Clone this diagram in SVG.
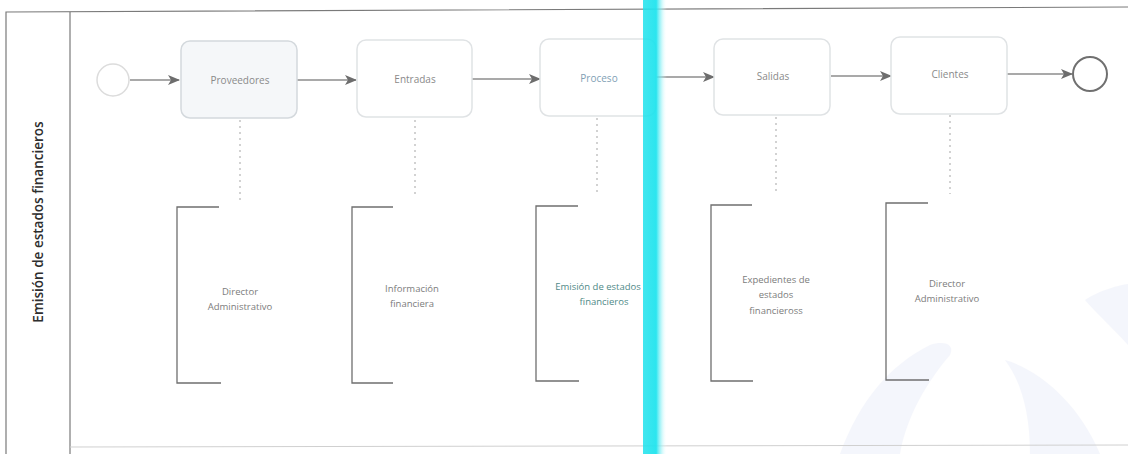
<svg xmlns="http://www.w3.org/2000/svg" width="1128" height="454" viewBox="0 0 1128 454">
  <defs>
    <style>
      .pool { fill: none; stroke: #7a7a7a; stroke-width: 1.2; }
      .task { stroke: #e0e3e5; stroke-width: 1.5; }
      .tlabel { font-family: "Open Sans", "Liberation Sans", sans-serif; font-size: 10px; fill: #8a8a8a; text-anchor: middle; }
      .alabel { font-family: "Open Sans", "Liberation Sans", sans-serif; font-size: 9.5px; fill: #7c7c7c; text-anchor: middle; }
      .flow { fill: none; stroke: #8d8d8d; stroke-width: 1.5; }
      .assoc { fill: none; stroke: #b5b5b5; stroke-width: 1.2; stroke-dasharray: 2 4; }
      .bracket { fill: none; stroke: #6f6f6f; stroke-width: 1.3; }
      .lane { font-family: "Open Sans", "Liberation Sans", sans-serif; font-size: 13.5px; font-weight: 600; fill: #2e2e2e; text-anchor: middle; }
    </style>
    <marker id="arrow" viewBox="0 0 12 10" refX="11" refY="5" markerWidth="12" markerHeight="10" markerUnits="userSpaceOnUse" orient="auto">
      <path d="M0,0 L12,5 L0,10 L3,5 Z" fill="#6d6d6d"/>
    </marker>
    <linearGradient id="band" x1="0" y1="0" x2="1" y2="0">
      <stop offset="0" stop-color="#20e2ec" stop-opacity="0.85"/>
      <stop offset="0.55" stop-color="#20e4ee" stop-opacity="0.95"/>
      <stop offset="0.75" stop-color="#8af0f5" stop-opacity="0.6"/>
      <stop offset="1" stop-color="#ffffff" stop-opacity="0"/>
    </linearGradient>
  </defs>

  <rect width="1128" height="454" fill="#ffffff"/>

  <!-- faint logo shapes in the lower right -->
  <g id="backdrop" fill="#8094dc" opacity="0.08">
    <path d="M840,454 C860,400 890,365 930,345 C945,340 955,345 950,355 C920,390 905,425 900,454 Z"/>
    <path d="M1030,454 C1030,410 1020,380 1005,360 C1040,370 1080,405 1100,454 Z"/>
    <path d="M1085,300 C1100,290 1120,285 1128,284 L1128,345 C1110,325 1095,312 1085,300 Z"/>
  </g>

  <!-- pool and lane -->
  <g id="pool">
    <path class="pool" d="M1128,7 L6,12 L6,454"/>
    <line class="pool" x1="70" y1="12" x2="70" y2="454"/>
    <line x1="70" y1="447" x2="1128" y2="445" stroke="#d0d0d0" stroke-width="1"/>
    <text class="lane" transform="translate(43,222) rotate(-90)">Emisión de estados financieros</text>
  </g>

  <!-- sequence flows and associations -->
  <g id="connectors">
    <line class="flow" x1="130" y1="80" x2="179" y2="80" marker-end="url(#arrow)"/>
    <line class="flow" x1="297" y1="80" x2="356" y2="80" marker-end="url(#arrow)"/>
    <line class="flow" x1="472" y1="79" x2="540" y2="79" marker-end="url(#arrow)"/>
    <line class="flow" x1="656" y1="77" x2="714" y2="77" marker-end="url(#arrow)"/>
    <line class="flow" x1="831" y1="76" x2="891" y2="76" marker-end="url(#arrow)"/>
    <line class="flow" x1="1007" y1="74" x2="1072" y2="74" marker-end="url(#arrow)"/>
    <line class="assoc" x1="240" y1="120" x2="240" y2="200"/>
    <line class="assoc" x1="415" y1="120" x2="415" y2="198"/>
    <line class="assoc" x1="597" y1="118" x2="597" y2="196"/>
    <line class="assoc" x1="776" y1="117" x2="776" y2="195"/>
    <line class="assoc" x1="950" y1="115" x2="950" y2="194"/>
  </g>

  <g id="start">
    <circle cx="113" cy="80" r="16" fill="#ffffff" stroke="#dcdcdc" stroke-width="1.5"/>
  </g>

  <g id="proveedores">
    <rect class="task" x="181" y="41" width="116" height="77" rx="9" style="fill:#f5f7f9;stroke:#d4d9dd"/>
    <text class="tlabel" x="240" y="84">Proveedores</text>
  </g>
  <g id="entradas">
    <rect class="task" x="357" y="40" width="115" height="77" rx="9" style="fill:#ffffff"/>
    <text class="tlabel" x="415" y="83">Entradas</text>
  </g>
  <g id="proceso">
    <rect class="task" x="540" y="39" width="116" height="77" rx="9" style="fill:#ffffff"/>
    <text class="tlabel" x="599" y="82" style="fill:#7f9fb5">Proceso</text>
  </g>
  <g id="salidas">
    <rect class="task" x="714" y="39" width="116" height="76" rx="9" style="fill:#ffffff"/>
    <text class="tlabel" x="773" y="80">Salidas</text>
  </g>
  <g id="clientes">
    <rect class="task" x="891" y="37" width="116" height="77" rx="9" style="fill:#ffffff"/>
    <text class="tlabel" x="950" y="78">Clientes</text>
  </g>

  <g id="end">
    <circle cx="1090" cy="74" r="17" fill="#ffffff" stroke="#707070" stroke-width="2"/>
  </g>

  <!-- text annotations -->
  <g id="note-director-1">
    <path class="bracket" d="M219,207 L177,207 L177,383 L221,383"/>
    <text class="alabel" x="240" y="295">Director</text>
    <text class="alabel" x="240" y="310">Administrativo</text>
  </g>
  <g id="note-informacion">
    <path class="bracket" d="M393,207 L352,207 L352,383 L393,383"/>
    <text class="alabel" x="412" y="292">Información</text>
    <text class="alabel" x="412" y="307">financiera</text>
  </g>
  <g id="note-emision">
    <path class="bracket" d="M578,206 L536,206 L536,381 L579,381"/>
    <text class="alabel" x="598" y="290" style="fill:#4f8a88">Emisión de estados</text>
    <text class="alabel" x="604" y="305" style="fill:#4f8a88">financieros</text>
  </g>
  <g id="note-expedientes">
    <path class="bracket" d="M752,205 L711,205 L711,381 L753,381"/>
    <text class="alabel" x="776" y="283">Expedientes de</text>
    <text class="alabel" x="776" y="298">estados</text>
    <text class="alabel" x="776" y="314">financieross</text>
  </g>
  <g id="note-director-2">
    <path class="bracket" d="M928,203 L886,203 L886,380 L929,380"/>
    <text class="alabel" x="947" y="287">Director</text>
    <text class="alabel" x="947" y="302">Administrativo</text>
  </g>

  <!-- cyan streak across the sheet -->
  <rect x="643" y="0" width="24" height="454" fill="url(#band)"/>
</svg>
